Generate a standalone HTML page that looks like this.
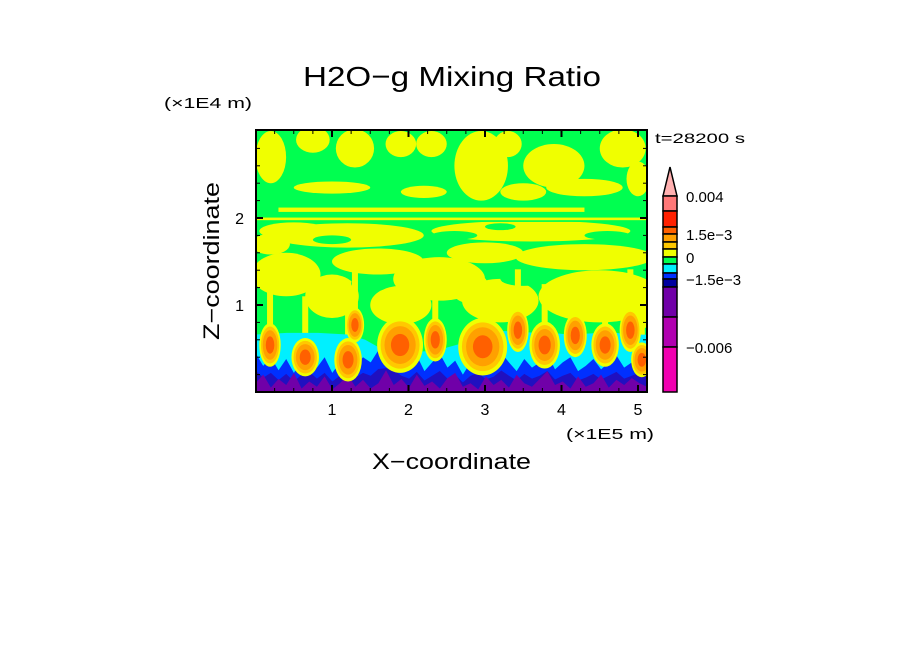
<!DOCTYPE html>
<html><head><meta charset="utf-8"><style>
html,body{margin:0;padding:0;background:#fff;}
svg{display:block;font-family:"Liberation Sans",sans-serif;}
</style></head><body>
<svg id="c" width="904" height="654" viewBox="0 0 904 654" xmlns="http://www.w3.org/2000/svg">
<text x="303" y="86" font-size="28" textLength="298" lengthAdjust="spacingAndGlyphs">H2O−g Mixing Ratio</text>
<text x="164" y="108" font-size="15" textLength="88" lengthAdjust="spacingAndGlyphs">(×1E4 m)</text>
<text x="655" y="143" font-size="14" textLength="90" lengthAdjust="spacingAndGlyphs">t=28200 s</text>
<text transform="translate(219,340) rotate(-90)" font-size="22" textLength="158" lengthAdjust="spacingAndGlyphs">Z−coordinate</text>
<text x="372" y="469" font-size="22" textLength="159" lengthAdjust="spacingAndGlyphs">X−coordinate</text>
<text x="566" y="439" font-size="15" textLength="88" lengthAdjust="spacingAndGlyphs">(×1E5 m)</text>
<defs><clipPath id="pc"><rect x="256" y="130" width="391" height="262"/></clipPath></defs>
<g id="field" clip-path="url(#pc)"></g>
<g id="axes"></g>
<g id="cbar"></g>
</svg>
<script>
const xTicks=[1,2,3,4,5];
const zTicks=[1,2];
const yellowBlobs=[[0.2,2.7,0.2,0.3],[0.75,2.9,0.22,0.15],[1.3,2.8,0.25,0.22],[1.9,2.85,0.2,0.15],[2.3,2.85,0.2,0.15],[2.95,2.6,0.35,0.4],[3.3,2.85,0.18,0.15],[3.9,2.6,0.4,0.25],[4.3,2.35,0.5,0.1],[4.8,2.8,0.3,0.22],[5.0,2.45,0.15,0.2],[3.5,2.3,0.3,0.1],[1.0,2.35,0.5,0.07],[2.2,2.3,0.3,0.07],
[0.4,1.35,0.45,0.25],[1.6,1.5,0.6,0.15],[2.4,1.3,0.6,0.25],[3.0,1.6,0.5,0.12],[4.3,1.55,0.9,0.15],[4.5,1.1,0.8,0.3],[3.2,1.05,0.5,0.25],[1.0,1.1,0.35,0.25],[1.9,1.0,0.4,0.22],[2.8,1.2,0.25,0.18],[0.2,1.7,0.25,0.12],[5.0,1.0,0.2,0.3],[1.2,1.8,1.0,0.14],[3.6,1.85,1.3,0.12],[0.5,1.85,0.45,0.1]];
const greenHoles=[[1.0,1.75,0.25,0.05],[2.6,1.8,0.3,0.05],[4.6,1.8,0.3,0.05],[3.2,1.9,0.2,0.04],[3.5,1.3,0.3,0.08],[1.5,1.25,0.25,0.1]];
const plumes=[[0.19,0.54,0.14,0.25],[0.65,0.40,0.18,0.22],[1.21,0.37,0.18,0.25],[1.30,0.77,0.12,0.2],[1.89,0.54,0.3,0.32],[2.35,0.60,0.15,0.25],[2.97,0.52,0.32,0.33],[3.43,0.71,0.14,0.25],[3.78,0.54,0.2,0.27],[4.18,0.65,0.15,0.25],[4.57,0.54,0.18,0.25],[4.90,0.71,0.14,0.25],[5.05,0.37,0.14,0.2]];
const cyanTop=[0.66,0.67,0.68,0.68,0.68,0.67,0.66,0.6,0.5,0.46,0.46,0.47,0.5,0.55,0.66,0.7,0.7,0.69,0.68,0.68,0.66,0.67,0.68,0.68,0.66,0.66];
const blueTop=[0.45,0.3,0.4,0.25,0.38,0.22,0.36,0.42,0.28,0.4,0.22,0.34,0.45,0.3,0.4,0.34,0.48,0.5,0.46,0.34,0.28,0.42,0.24,0.34,0.44,0.28,0.36,0.2,0.34,0.4,0.26,0.32,0.45,0.34,0.24,0.38,0.28,0.34,0.44,0.26,0.34,0.4,0.24,0.3,0.38,0.26,0.34,0.42,0.28,0.34,0.4,0.32];
const purpleTop=[0.1,0.2,0.05,0.15,0.08,0.22,0.04,0.12,0.06,0.18,0.03,0.1,0.2,0.06,0.14,0.04,0.1,0.25,0.08,0.15,0.05,0.2,0.07,0.12,0.04,0.16,0.22,0.06,0.1,0.03,0.18,0.08,0.14,0.05,0.2,0.1,0.06,0.15,0.24,0.08,0.12,0.04,0.18,0.06,0.1,0.2,0.05,0.14,0.08,0.16,0.1,0.06];
const X0=255.5,XS=76.5,Z0=392,ZS=87;
const xs=v=>X0+v*XS, zs=v=>Z0-v*ZS;
const NS='http://www.w3.org/2000/svg';
function mk(p,t,a){const e=document.createElementNS(NS,t);for(const k in a)e.setAttribute(k,a[k]);p.appendChild(e);return e;}
const F=document.getElementById('field');
let e=mk(F,'rect',{x:256,y:130,width:391,height:262,fill:'#00ff50'});


yellowBlobs.forEach(b=>{const el=mk(F,'ellipse',{cx:xs(b[0]),cy:zs(b[1]),rx:b[2]*XS,ry:b[3]*ZS,fill:'#f0ff00'});

});
greenHoles.forEach(b=>{const el=mk(F,'ellipse',{cx:xs(b[0]),cy:zs(b[1]),rx:b[2]*XS,ry:b[3]*ZS,fill:'#00ff50'});

});
[[0.3,4.3,2.07,2.12,'#f0ff00'],[0,5.12,1.975,2.005,'#f0ff00'],[0,5.12,1.955,1.97,'#00ff50']].forEach(s=>{const el=mk(F,'rect',{x:xs(s[0]),y:zs(s[3]),width:(s[1]-s[0])*XS,height:(s[3]-s[2])*ZS,fill:s[4]});

});
plumes.forEach(b=>{const el=mk(F,'rect',{x:xs(b[0])-3,y:zs(b[1]+0.7),width:6,height:0.7*ZS,fill:'#f0ff00'});

});
function band(arr,col,name){const n=arr.length;let d='M'+xs(0)+','+Z0;arr.forEach((v,i)=>{d+=' L'+xs(i*5.12/(n-1))+','+zs(v);});d+=' L'+xs(5.12)+','+Z0+'Z';const el=mk(F,'path',{d:d,fill:col});

}
band(cyanTop,'#00f0ff','cyan-layer');
band(blueTop,'#0030ff','blue-layer');
band(blueTop.map(v=>v*0.55),'#2010c0','navy-layer');
band(purpleTop,'#7000a8','purple-layer');
plumes.forEach(b=>{[[1,'#f0ff00'],[0.85,'#ffc800'],[0.68,'#ffa000'],[0.4,'#ff6000']].forEach(l=>{const el=mk(F,'ellipse',{cx:xs(b[0]),cy:zs(b[1]),rx:b[2]*XS*l[0],ry:b[3]*ZS*l[0],fill:l[1]});

});});
const A=document.getElementById('axes');
let fr=mk(A,'rect',{x:256,y:130,width:391,height:262,fill:'none',stroke:'#000','stroke-width':2});


for(let v=0.25;v<5.12;v+=0.25){const big=Math.abs(v-Math.round(v))<1e-6;const L=big?7:4;
mk(A,'line',{x1:xs(v),x2:xs(v),y1:130,y2:130+L,stroke:'#000','stroke-width':big?2:1});
mk(A,'line',{x1:xs(v),x2:xs(v),y1:392,y2:392-L,stroke:'#000','stroke-width':big?2:1});}
for(let v=0.2;v<3.0;v+=0.2){const big=Math.abs(v-Math.round(v))<1e-6;const L=big?7:4;
mk(A,'line',{x1:256,x2:256+L,y1:zs(v),y2:zs(v),stroke:'#000','stroke-width':big?2:1});
mk(A,'line',{x1:647,x2:647-L,y1:zs(v),y2:zs(v),stroke:'#000','stroke-width':big?2:1});}
xTicks.forEach(v=>{const t=mk(A,'text',{x:xs(v),y:415,'font-size':16,'text-anchor':'middle'});t.textContent=v;

});
zTicks.forEach(v=>{const t=mk(A,'text',{x:244,y:zs(v)+6,'font-size':16,'text-anchor':'end'});t.textContent=v;

});
const C=document.getElementById('cbar');
const segs=[[196,211,'#ff7878'],[211,227,'#ff2000'],[227,234,'#ff6000'],[234,242,'#ffa000'],[242,249,'#ffc800'],[249,257,'#f0ff00'],[257,264,'#00ff50'],[264,273,'#00f0ff'],[273,279,'#0030ff'],[279,287,'#0000a0'],[287,317,'#7000a8'],[317,347,'#b000b0'],[347,392,'#f000b0']];
let tip=mk(C,'polygon',{points:'663,196 677,196 670,167',fill:'#ffb0b0',stroke:'#000','stroke-width':1.5});


segs.forEach(s=>{const r=mk(C,'rect',{x:663,y:s[0],width:14,height:s[1]-s[0],fill:s[2],stroke:'#000','stroke-width':1.5});

});
[[196,'0.004'],[234,'1.5e−3'],[257,'0'],[279,'−1.5e−3'],[347,'−0.006']].forEach(l=>{const t=mk(C,'text',{x:686,y:l[0]+6,'font-size':15});t.textContent=l[1];

});
</script>
</body></html>
